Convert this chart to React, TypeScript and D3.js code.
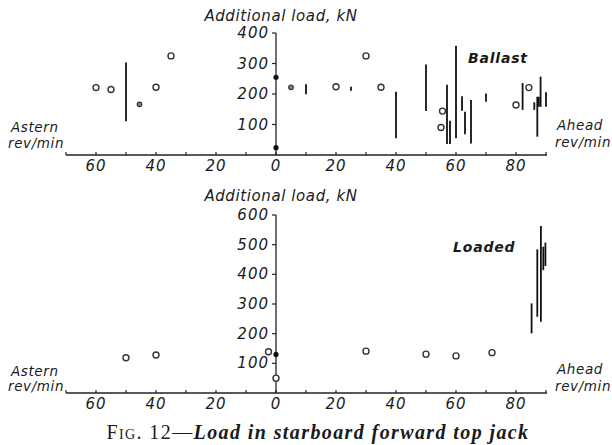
import React, { useRef, useEffect } from 'react';
import * as d3 from 'd3';

// rev/min: astern is negative, ahead is positive
const xTicks = [-70, -60, -50, -40, -30, -20, -10, 0, 10, 20, 30, 40, 50, 60, 70, 80, 90];
const xLabels = [-60, -40, -20, 0, 20, 40, 60, 80];
const ballastYTicks = [100, 200, 300, 400];
const loadedYTicks = [100, 200, 300, 400, 500, 600];

// [rev/min, load]
const ballastRings = [
  [-60, 221], [-55, 215], [-40, 222], [-35, 325], [20, 224], [30, 325],
  [35, 222], [55, 90], [55.5, 144], [80, 164], [84.3, 221],
];
const ballastSmallRings = [[-45.5, 166], [5, 222]];
const ballastDots = [[0, 255], [0, 24]];
// [rev/min, low, high]
const ballastRanges = [
  [-50, 111, 303], [10, 199, 232], [25, 211, 224], [40, 55, 207], [50, 144, 297],
  [57, 36, 230], [58, 36, 112], [60, 55, 358], [62, 145, 193], [63, 68, 142],
  [65, 38, 180], [70, 175, 202], [82.2, 148, 236], [86.1, 148, 173], [87.1, 60, 191],
  [87.6, 158, 191], [88.2, 158, 257], [90, 158, 206],
];

const loadedRings = [
  [-50, 119], [-40, 128], [-2.5, 139], [0, 50], [30, 141], [50, 131], [60, 125], [72, 136],
];
const loadedDots = [[0, 130]];
const loadedRanges = [
  [85.2, 201, 302], [87.1, 257, 484], [88.3, 240, 563], [89.1, 414, 493], [89.8, 428, 507],
];

const labelFont = '"DejaVu Sans", sans-serif';

function App() {
  const canvas = useRef(null);

  useEffect(() => {
    const width = 612;
    const height = 445;

    d3.select(canvas.current).select('svg').remove();
    const svg = d3.select(canvas.current)
      .append('svg')
      .attr('width', width)
      .attr('height', height)
      .style('position', 'absolute')
      .style('left', '0px')
      .style('top', '0px')
      .style('background', '#fff');

    const x = d3.scaleLinear().domain([-70, 90]).range([66, 546]);

    function panel(opts) {
      const { y, yTicks, yMax, rings, smallRings, dots, ranges, name, nameX, nameY, titleY, sideY } = opts;
      const g = svg.append('g');
      const y0 = y(0);
      const x0 = x(0);

      // x axis
      g.append('line').attr('x1', x(-70)).attr('x2', x(90) + 1).attr('y1', y0).attr('y2', y0)
        .attr('stroke', '#222').attr('stroke-width', 1.3);
      g.selectAll('.xt').data(xTicks).enter().append('line')
        .attr('x1', (d) => x(d)).attr('x2', (d) => x(d))
        .attr('y1', y0).attr('y2', y0 - 3)
        .attr('stroke', '#222').attr('stroke-width', 1.2);
      g.selectAll('.xl').data(xLabels).enter().append('text')
        .attr('x', (d) => x(d)).attr('y', y0 + 16)
        .attr('text-anchor', 'middle')
        .attr('font-family', labelFont).attr('font-style', 'italic')
        .attr('font-size', 15).attr('letter-spacing', 1).attr('fill', '#1a1a1a')
        .text((d) => Math.abs(d));

      // y axis
      g.append('line').attr('x1', x0).attr('x2', x0).attr('y1', y0).attr('y2', y(yMax))
        .attr('stroke', '#222').attr('stroke-width', 1.3);
      g.selectAll('.yt').data(yTicks).enter().append('line')
        .attr('x1', x0 - 4).attr('x2', x0)
        .attr('y1', (d) => y(d)).attr('y2', (d) => y(d))
        .attr('stroke', '#222').attr('stroke-width', 1.2);
      g.selectAll('.yl').data(yTicks).enter().append('text')
        .attr('x', x0 - 7).attr('y', (d) => y(d) + 5)
        .attr('text-anchor', 'end')
        .attr('font-family', labelFont).attr('font-style', 'italic')
        .attr('font-size', 15).attr('letter-spacing', 1).attr('fill', '#1a1a1a')
        .text((d) => d);

      g.append('text').attr('x', x0 + 5).attr('y', titleY)
        .attr('text-anchor', 'middle')
        .attr('font-family', labelFont).attr('font-style', 'italic')
        .attr('font-size', 15).attr('letter-spacing', 0.6).attr('fill', '#1a1a1a')
        .text('Additional load, kN');

      g.append('text').attr('x', nameX).attr('y', nameY)
        .attr('font-family', labelFont).attr('font-style', 'italic').attr('font-weight', 'bold')
        .attr('font-size', 14).attr('letter-spacing', 0.8).attr('fill', '#1a1a1a')
        .text(name);

      const side = g.append('g')
        .attr('font-family', labelFont).attr('font-style', 'italic')
        .attr('font-size', 13.5).attr('letter-spacing', 0.6).attr('fill', '#1a1a1a');
      side.append('text').attr('x', 11).attr('y', sideY[0]).text('Astern');
      side.append('text').attr('x', 8).attr('y', sideY[1]).text('rev/min');
      side.append('text').attr('x', 557).attr('y', sideY[2]).text('Ahead');
      side.append('text').attr('x', 555).attr('y', sideY[3]).text('rev/min');

      // data
      g.selectAll('.rng').data(ranges).enter().append('line')
        .attr('x1', (d) => x(d[0])).attr('x2', (d) => x(d[0]))
        .attr('y1', (d) => y(d[1])).attr('y2', (d) => y(d[2]))
        .attr('stroke', '#111').attr('stroke-width', 1.8);
      g.selectAll('.ring').data(rings).enter().append('circle')
        .attr('cx', (d) => x(d[0])).attr('cy', (d) => y(d[1])).attr('r', 3)
        .attr('fill', '#fff').attr('stroke', '#333').attr('stroke-width', 1.4);
      g.selectAll('.sring').data(smallRings).enter().append('circle')
        .attr('cx', (d) => x(d[0])).attr('cy', (d) => y(d[1])).attr('r', 2.3)
        .attr('fill', '#888').attr('stroke', '#333').attr('stroke-width', 1.2);
      g.selectAll('.dot').data(dots).enter().append('circle')
        .attr('cx', (d) => x(d[0])).attr('cy', (d) => y(d[1])).attr('r', 2.6)
        .attr('fill', '#111');
    }

    panel({
      y: d3.scaleLinear().domain([0, 400]).range([155, 33]),
      yTicks: ballastYTicks, yMax: 400,
      rings: ballastRings, smallRings: ballastSmallRings, dots: ballastDots, ranges: ballastRanges,
      name: 'Ballast', nameX: 468, nameY: 63, titleY: 21,
      sideY: [132, 148, 130, 147],
    });

    panel({
      y: d3.scaleLinear().domain([0, 600]).range([393, 215]),
      yTicks: loadedYTicks, yMax: 600,
      rings: loadedRings, smallRings: [], dots: loadedDots, ranges: loadedRanges,
      name: 'Loaded', nameX: 453, nameY: 252, titleY: 201,
      sideY: [376, 391, 374, 391],
    });

    const cap = svg.append('text').attr('x', 318).attr('y', 439)
      .attr('text-anchor', 'middle')
      .attr('font-family', '"Liberation Serif", serif').attr('font-size', 20)
      .attr('letter-spacing', 1.4).attr('fill', '#1a1a1a');
    cap.append('tspan').attr('font-variant', 'small-caps').text('Fig. 12—');
    cap.append('tspan').attr('font-style', 'italic').attr('font-weight', 'bold')
      .text('Load in starboard forward top jack');
  }, []);

  return (
    <div ref={canvas}>
      {}
    </div>
  );
}

export default App;
